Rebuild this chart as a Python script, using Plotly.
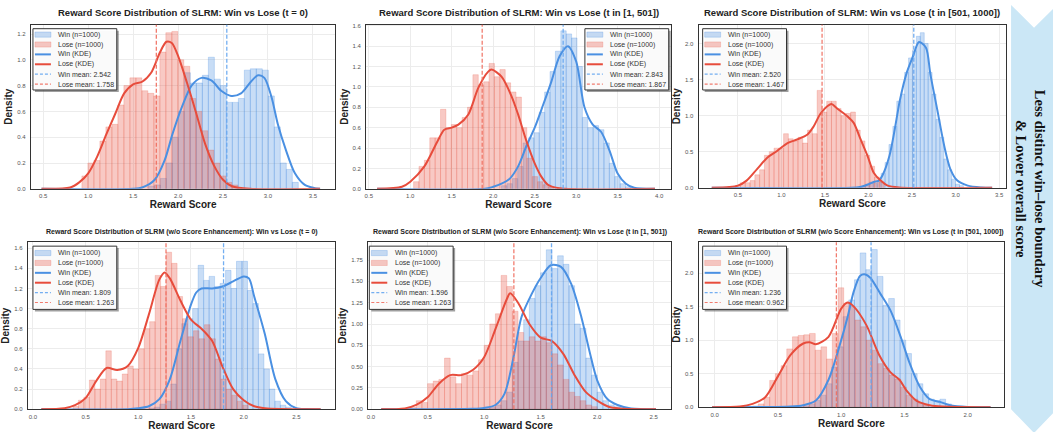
import numpy as np
import plotly.graph_objects as go

# ---------------- data ----------------
N_WIN = 1000
N_LOSE = 1000

titles = [
    "Reward Score Distribution of SLRM: Win vs Lose (t = 0)",
    "Reward Score Distribution of SLRM: Win vs Lose (t in [1, 501])",
    "Reward Score Distribution of SLRM: Win vs Lose (t in [501, 1000])",
    "Reward Score Distribution of SLRM (w/o Score Enhancement): Win vs Lose (t = 0)",
    "Reward Score Distribution of SLRM (w/o Score Enhancement): Win vs Lose (t in [1, 501])",
    "Reward Score Distribution of SLRM (w/o Score Enhancement): Win vs Lose (t in [501, 1000])",
]
win_means = [2.542, 2.843, 2.520, 1.809, 1.596, 1.236]
lose_means = [1.758, 1.867, 1.467, 1.263, 1.263, 0.962]

# histogram bins: first edge, bin width, densities
win_bin_start = [1.67, 2.10, 1.92, 1.10, 1.00, 0.70]
win_bin_width = [0.0667, 0.065, 0.045, 0.052, 0.05, 0.045]
lose_bin_start = [0.93, 1.04, 0.42, 0.38, 0.35, 0.30]
lose_bin_width = [0.0667, 0.065, 0.055, 0.052, 0.05, 0.045]

p1_win_hist = [0.02, 0.03, 0.08, 0.2, 0.4, 0.6, 0.9, 0.82, 0.82, 0.88, 1.02, 0.85, 0.8, 0.67,
               0.67, 0.7, 0.92, 0.93, 0.93, 0.92, 0.72, 0.48, 0.2, 0.15, 0.05]
p1_lose_hist = [0.1, 0.2, 0.22, 0.37, 0.48, 0.5, 0.65, 0.8, 0.86, 0.86, 0.76, 0.74, 0.72, 1.06,
                1.21, 1.22, 1.0, 0.95, 0.7, 0.6, 0.45, 0.3, 0.2, 0.1, 0.05, 0.03]
p2_win_hist = [0.03, 0.05, 0.1, 0.22, 0.45, 0.5, 0.55, 0.75, 0.95, 1.15, 1.35, 1.55, 1.52, 1.48,
               1.2, 0.7, 0.6, 0.62, 0.58, 0.45, 0.25, 0.12, 0.05, 0.02]
p2_lose_hist = [0.07, 0.22, 0.28, 0.5, 0.5, 0.78, 0.6, 0.63, 0.6, 0.7, 0.8, 1.12, 1.02, 1.05,
                1.23, 1.1, 1.17, 1.04, 0.95, 0.9, 0.6, 0.3, 0.12, 0.07, 0.04, 0.02]
p3_win_hist = [0.02, 0.05, 0.08, 0.06, 0.1, 0.2, 0.35, 0.6, 0.85, 1.2, 1.3, 1.6, 1.8, 1.9,
               2.1, 2.15, 2.0, 1.6, 1.3, 0.95, 0.7, 0.4, 0.25, 0.12, 0.05, 0.03]
p3_lose_hist = [0.02, 0.03, 0.07, 0.07, 0.1, 0.18, 0.25, 0.45, 0.5, 0.55, 0.55, 0.75, 0.68, 0.65,
                0.7, 0.62, 0.8, 0.75, 1.35, 1.05, 1.2, 1.2, 1.1, 1.0, 1.03, 1.05, 0.8, 0.65,
                0.45, 0.3, 0.15, 0.08]
p4_win_hist = [0.01, 0.02, 0.05, 0.08, 0.25, 0.6, 0.85, 0.9, 1.0, 1.43, 1.28, 1.32, 1.22, 1.25,
               1.38, 1.2, 1.47, 1.47, 1.18, 1.05, 0.55, 0.4, 0.2, 0.08, 0.04, 0.02]
p4_lose_hist = [0.03, 0.09, 0.12, 0.29, 0.2, 0.3, 0.58, 0.3, 0.28, 0.35, 0.43, 0.4, 0.6, 0.8,
                0.87, 1.33, 1.22, 1.56, 1.45, 1.12, 0.9, 0.72, 0.78, 0.7, 0.84, 0.7, 0.5, 0.3,
                0.2, 0.14, 0.08, 0.04]
p5_win_hist = [0.01, 0.02, 0.05, 0.1, 0.2, 0.55, 0.8, 1.05, 1.3, 1.45, 1.6, 1.87, 1.65, 1.8,
               1.7, 1.45, 1.0, 0.95, 0.6, 0.4, 0.2, 0.1, 0.05, 0.03, 0.02]
p5_lose_hist = [0.02, 0.1, 0.08, 0.3, 0.33, 0.35, 0.6, 0.38, 0.3, 0.42, 0.4, 0.45, 0.58, 0.75,
                1.0, 1.12, 1.57, 1.44, 1.15, 0.9, 0.8, 0.85, 0.8, 0.85, 0.78, 0.65, 0.52, 0.35,
                0.2, 0.15, 0.1, 0.05, 0.03]
p6_win_hist = [0.02, 0.05, 0.1, 0.18, 0.35, 0.6, 0.9, 1.35, 1.6, 1.9, 2.3, 2.05, 2.35, 1.95,
               1.52, 1.62, 1.3, 1.0, 0.8, 0.5, 0.35, 0.2, 0.12, 0.1, 0.12, 0.05, 0.02]
p6_lose_hist = [0.02, 0.05, 0.15, 0.4, 0.5, 0.62, 0.87, 1.05, 1.07, 1.08, 1.1, 0.85, 0.9, 0.72,
                1.1, 1.78, 1.55, 1.5, 1.3, 1.2, 1.0, 0.85, 0.65, 0.58, 0.48, 0.42, 0.3, 0.18,
                0.12, 0.06, 0.03]

# KDE curves
p1_win_kde_x = [0.48, 1.5, 1.6, 1.74, 1.85, 1.94, 2.04, 2.15, 2.26, 2.37, 2.48, 2.59, 2.7, 2.81,
                2.89, 2.96, 3.04, 3.11, 3.2, 3.3, 3.41, 3.52, 3.58]
p1_win_kde_y = [0, 0, 0.01, 0.07, 0.22, 0.43, 0.63, 0.8, 0.86, 0.84, 0.76, 0.72, 0.74, 0.83,
                0.88, 0.86, 0.71, 0.5, 0.3, 0.12, 0.03, 0.005, 0]
p1_lose_kde_x = [0.48, 0.8, 0.9, 1.0, 1.1, 1.2, 1.3, 1.4, 1.5, 1.6, 1.7, 1.8, 1.87, 1.93, 2.0,
                 2.1, 2.2, 2.3, 2.4, 2.5, 2.6, 2.8, 3.58]
p1_lose_kde_y = [0, 0.01, 0.05, 0.12, 0.25, 0.42, 0.58, 0.74, 0.81, 0.83, 0.9, 1.06, 1.14, 1.13,
                 1.03, 0.82, 0.59, 0.35, 0.18, 0.07, 0.02, 0.0, 0]
p2_win_kde_x = [0.6, 1.9, 2.0, 2.1, 2.2, 2.3, 2.4, 2.5, 2.6, 2.7, 2.8, 2.9, 3.0, 3.1, 3.2, 3.3,
                3.4, 3.5, 3.6, 3.7, 3.95]
p2_win_kde_y = [0, 0, 0.02, 0.05, 0.1, 0.22, 0.42, 0.6, 0.82, 1.05, 1.3, 1.4, 1.25, 0.8, 0.63,
                0.56, 0.38, 0.15, 0.05, 0.01, 0]
p2_lose_kde_x = [0.6, 0.9, 1.0, 1.17, 1.33, 1.41, 1.5, 1.58, 1.7, 1.82, 1.94, 1.98, 2.1, 2.22,
                 2.3, 2.4, 2.5, 2.58, 2.66, 2.8, 3.95]
p2_lose_kde_y = [0, 0.02, 0.07, 0.22, 0.47, 0.58, 0.6, 0.63, 0.73, 0.99, 1.15, 1.17, 1.1, 0.91,
                 0.73, 0.47, 0.25, 0.12, 0.04, 0.005, 0]
p3_win_kde_x = [0.2, 1.8, 1.9, 2.0, 2.06, 2.12, 2.16, 2.24, 2.3, 2.36, 2.44, 2.51, 2.58, 2.66,
                2.71, 2.79, 2.87, 2.94, 3.02, 3.14, 3.3, 3.42]
p3_win_kde_y = [0, 0, 0.01, 0.05, 0.08, 0.1, 0.17, 0.44, 0.8, 1.21, 1.6, 1.82, 2.02, 1.94, 1.58,
                1.08, 0.58, 0.26, 0.1, 0.03, 0.005, 0]
p3_lose_kde_x = [0.2, 0.4, 0.5, 0.6, 0.72, 0.84, 0.95, 1.07, 1.18, 1.3, 1.37, 1.45, 1.55, 1.58,
                 1.64, 1.76, 1.83, 1.91, 1.99, 2.06, 2.14, 2.22, 2.35, 3.42]
p3_lose_kde_y = [0, 0.01, 0.03, 0.1, 0.26, 0.42, 0.51, 0.62, 0.67, 0.74, 0.85, 1.03, 1.15, 1.16,
                 1.1, 0.99, 0.9, 0.67, 0.44, 0.21, 0.1, 0.03, 0.005, 0]
p4_win_kde_x = [0.08, 0.9, 1.0, 1.1, 1.2, 1.3, 1.4, 1.5, 1.55, 1.6, 1.7, 1.8, 1.9, 2.0, 2.05,
                2.1, 2.2, 2.3, 2.4, 2.5, 2.6, 2.73]
p4_win_kde_y = [0, 0, 0.01, 0.03, 0.1, 0.3, 0.68, 1.04, 1.16, 1.2, 1.2, 1.22, 1.27, 1.32, 1.3,
                1.12, 0.75, 0.3, 0.08, 0.01, 0.002, 0]
p4_lose_kde_x = [0.08, 0.3, 0.4, 0.5, 0.6, 0.7, 0.8, 0.9, 1.0, 1.1, 1.2, 1.25, 1.3, 1.4, 1.5,
                 1.6, 1.7, 1.8, 1.9, 2.0, 2.1, 2.2, 2.35, 2.73]
p4_lose_kde_y = [0, 0.01, 0.04, 0.11, 0.28, 0.41, 0.39, 0.43, 0.61, 0.94, 1.29, 1.36, 1.3, 1.08,
                 0.89, 0.8, 0.68, 0.42, 0.2, 0.09, 0.03, 0.01, 0.002, 0]
p5_win_kde_x = [0.09, 0.9, 1.0, 1.1, 1.18, 1.26, 1.33, 1.42, 1.5, 1.59, 1.68, 1.77, 1.86, 1.93,
                2.0, 2.09, 2.18, 2.3, 2.52]
p5_win_kde_y = [0, 0.005, 0.015, 0.05, 0.18, 0.61, 1.08, 1.35, 1.54, 1.69, 1.67, 1.47, 1.08,
                0.69, 0.34, 0.12, 0.05, 0.01, 0]
p5_lose_kde_x = [0.09, 0.3, 0.4, 0.5, 0.6, 0.7, 0.8, 0.9, 1.0, 1.1, 1.2, 1.23, 1.3, 1.4, 1.5,
                 1.6, 1.7, 1.8, 1.9, 2.0, 2.1, 2.2, 2.52]
p5_lose_kde_y = [0, 0.01, 0.05, 0.14, 0.3, 0.4, 0.4, 0.46, 0.61, 0.94, 1.29, 1.36, 1.25, 1.0,
                 0.84, 0.8, 0.65, 0.4, 0.2, 0.1, 0.03, 0.01, 0]
p6_win_kde_x = [-0.02, 0.6, 0.7, 0.8, 0.9, 1.0, 1.05, 1.1, 1.15, 1.19, 1.23, 1.31, 1.39, 1.47,
                1.54, 1.62, 1.7, 1.78, 1.86, 2.0, 2.18]
p6_win_kde_y = [0, 0.01, 0.03, 0.1, 0.41, 1.0, 1.34, 1.73, 1.96, 1.98, 1.93, 1.69, 1.44, 1.05,
                0.66, 0.31, 0.12, 0.08, 0.03, 0.005, 0]
p6_lose_kde_x = [-0.02, 0.2, 0.3, 0.4, 0.5, 0.6, 0.7, 0.75, 0.8, 0.9, 1.0, 1.05, 1.1, 1.2, 1.3,
                 1.39, 1.46, 1.52, 1.6, 1.7, 1.8, 2.18]
p6_lose_kde_y = [0, 0.01, 0.05, 0.15, 0.46, 0.78, 0.95, 0.97, 0.94, 1.05, 1.47, 1.56, 1.5, 1.22,
                 0.78, 0.52, 0.41, 0.24, 0.09, 0.03, 0.01, 0]

# axis ranges / ticks
x_ranges = [[0.363, 3.75], [0.47, 4.14], [0.05, 3.58], [-0.047, 2.87], [-0.024, 2.65], [-0.126, 2.287]]
y_ranges = [[0, 1.272], [0, 1.61], [0, 2.26], [0, 1.66], [0, 1.96], [0, 2.46]]
x_ticks = [[0.5, 1.0, 1.5, 2.0, 2.5, 3.0, 3.5],
           [0.5, 1.0, 1.5, 2.0, 2.5, 3.0, 3.5, 4.0],
           [0.5, 1.0, 1.5, 2.0, 2.5, 3.0, 3.5],
           [0.0, 0.5, 1.0, 1.5, 2.0, 2.5],
           [0.0, 0.5, 1.0, 1.5, 2.0, 2.5],
           [0.0, 0.5, 1.0, 1.5, 2.0]]
y_ticks = [[0, 0.2, 0.4, 0.6, 0.8, 1.0, 1.2],
           [0, 0.2, 0.4, 0.6, 0.8, 1.0, 1.2, 1.4, 1.6],
           [0, 0.5, 1.0, 1.5, 2.0],
           [0, 0.2, 0.4, 0.6, 0.8, 1.0, 1.2, 1.4, 1.6],
           [0, 0.25, 0.5, 0.75, 1.0, 1.25, 1.5, 1.75],
           [0, 0.5, 1.0, 1.5, 2.0]]
y_formats = [".1f", ".1f", ".1f", ".1f", ".2f", ".1f"]

win_hists = [p1_win_hist, p2_win_hist, p3_win_hist, p4_win_hist, p5_win_hist, p6_win_hist]
lose_hists = [p1_lose_hist, p2_lose_hist, p3_lose_hist, p4_lose_hist, p5_lose_hist, p6_lose_hist]
win_kdes = [(p1_win_kde_x, p1_win_kde_y), (p2_win_kde_x, p2_win_kde_y), (p3_win_kde_x, p3_win_kde_y),
            (p4_win_kde_x, p4_win_kde_y), (p5_win_kde_x, p5_win_kde_y), (p6_win_kde_x, p6_win_kde_y)]
lose_kdes = [(p1_lose_kde_x, p1_lose_kde_y), (p2_lose_kde_x, p2_lose_kde_y), (p3_lose_kde_x, p3_lose_kde_y),
             (p4_lose_kde_x, p4_lose_kde_y), (p5_lose_kde_x, p5_lose_kde_y), (p6_lose_kde_x, p6_lose_kde_y)]

side_text = "Less distinct win\u2013lose boundary<br>& Lower overall score"

# ---------------- layout / style ----------------
W, H = 1053, 432
BLUE = "#4A90E2"
RED = "#E74C3C"
BLUE_FILL = "rgba(74,144,226,0.30)"
RED_FILL = "rgba(231,76,60,0.30)"
BLUE_EDGE = "rgba(74,144,226,0.45)"
RED_EDGE = "rgba(231,76,60,0.35)"
BLUE_MEAN = "rgba(100,165,240,0.9)"
RED_MEAN = "rgba(240,110,95,0.9)"
FONT = "Liberation Sans, Arial, sans-serif"

# plot areas in pixels: left, top, right, bottom
areas = [(29, 23, 334, 189), (365, 23, 670, 189), (698, 23, 1006, 188),
         (26, 243, 334, 412), (367, 243, 670, 412), (698, 243, 1004, 410)]
legend_pos = [(31, 27), (584, 27), (702, 27), (31, 247), (368, 247), (702, 247)]
legend_h = [62, 62, 62, 64, 64, 64]
title_y = [11, 11, 11, 233, 233, 233]
title_size = [9.5, 9.5, 9.5, 7, 7, 7]


def px(x):
    return x / W


def py(y):
    return 1 - y / H


fig = go.Figure()
shapes = []
annotations = []
layout_axes = {}

for k in range(6):
    i = k + 1
    xa = "x" if i == 1 else f"x{i}"
    ya = "y" if i == 1 else f"y{i}"
    sfx = "" if i == 1 else str(i)

    wc = win_bin_start[k] + win_bin_width[k] * (np.arange(len(win_hists[k])) + 0.5)
    lc = lose_bin_start[k] + lose_bin_width[k] * (np.arange(len(lose_hists[k])) + 0.5)
    fig.add_trace(go.Bar(x=wc, y=win_hists[k], width=win_bin_width[k], name=f"Win (n={N_WIN})",
                         marker=dict(color=BLUE_FILL, line=dict(color=BLUE_EDGE, width=0.6)),
                         xaxis=xa, yaxis=ya, showlegend=False))
    fig.add_trace(go.Bar(x=lc, y=lose_hists[k], width=lose_bin_width[k], name=f"Lose (n={N_LOSE})",
                         marker=dict(color=RED_FILL, line=dict(color=RED_EDGE, width=0.6)),
                         xaxis=xa, yaxis=ya, showlegend=False))
    fig.add_trace(go.Scatter(x=win_kdes[k][0], y=win_kdes[k][1], mode="lines", name="Win (KDE)",
                             line=dict(color=BLUE, width=2, shape="spline", smoothing=0.8),
                             xaxis=xa, yaxis=ya, showlegend=False))
    fig.add_trace(go.Scatter(x=lose_kdes[k][0], y=lose_kdes[k][1], mode="lines", name="Lose (KDE)",
                             line=dict(color=RED, width=2, shape="spline", smoothing=0.8),
                             xaxis=xa, yaxis=ya, showlegend=False))

    # mean lines
    for m, col in ((win_means[k], BLUE_MEAN), (lose_means[k], RED_MEAN)):
        shapes.append(dict(type="line", xref=xa, yref=f"{ya} domain", x0=m, x1=m, y0=0, y1=1,
                           line=dict(color=col, width=1.3, dash="4px,2px"), layer="above"))

    l, t, r, b = areas[k]
    layout_axes[f"xaxis{sfx}"] = dict(
        domain=[px(l), px(r)], anchor=ya, range=x_ranges[k], tickvals=x_ticks[k], tickformat=".1f",
        showgrid=True, gridcolor="#ececec", gridwidth=0.6, zeroline=False,
        showline=True, mirror=True, linecolor="#333333", linewidth=1.3, ticks="",
        ticklabelstandoff=1, tickfont=dict(size=6, color="#555555", family=FONT),
        title=dict(text="Reward Score", standoff=1,
                   font=dict(size=10, color="#222222", family=FONT, weight="bold")),
    )
    layout_axes[f"yaxis{sfx}"] = dict(
        domain=[py(b), py(t)], anchor=xa, range=y_ranges[k], tickvals=y_ticks[k], tickformat=y_formats[k],
        showgrid=True, gridcolor="#ececec", gridwidth=0.6, zeroline=False,
        showline=True, mirror=True, linecolor="#333333", linewidth=1.3, ticks="",
        ticklabelstandoff=3, tickfont=dict(size=6, color="#555555", family=FONT),
        title=dict(text="Density", standoff=2,
                   font=dict(size=10, color="#222222", family=FONT, weight="bold")),
    )

    # subplot title
    annotations.append(dict(text=titles[k], xref="paper", yref="paper", x=px((l + r) / 2), y=py(title_y[k]),
                            xanchor="center", yanchor="middle", showarrow=False,
                            font=dict(size=title_size[k], color="#222222", family=FONT, weight="bold")))

    # legend box (drawn by hand to match the compact matplotlib legend)
    lx, ly = legend_pos[k]
    step = 10.0
    lw, lh = 84, legend_h[k]
    shapes.append(dict(type="rect", xref="paper", yref="paper", x0=px(lx + 2), x1=px(lx + lw + 2),
                       y0=py(ly + lh + 2), y1=py(ly + 2), fillcolor="rgba(80,80,80,0.55)",
                       line=dict(width=0), layer="above"))
    shapes.append(dict(type="rect", xref="paper", yref="paper", x0=px(lx), x1=px(lx + lw),
                       y0=py(ly + lh), y1=py(ly), fillcolor="rgba(255,255,255,0.95)",
                       line=dict(color="#333333", width=1), layer="above"))
    labels = [f"Win (n={N_WIN})", f"Lose (n={N_LOSE})", "Win (KDE)", "Lose (KDE)",
              f"Win mean: {win_means[k]:.3f}", f"Lose mean: {lose_means[k]:.3f}"]
    y0 = ly + (lh - 5 * step) / 2
    for j, lab in enumerate(labels):
        yy = y0 + j * step
        if j < 2:
            fc, ec = (BLUE_FILL, BLUE_EDGE) if j == 0 else (RED_FILL, RED_EDGE)
            shapes.append(dict(type="rect", xref="paper", yref="paper", x0=px(lx + 2), x1=px(lx + 18),
                               y0=py(yy + 2.6), y1=py(yy - 2.6), fillcolor=fc,
                               line=dict(color=ec, width=0.6), layer="above"))
        elif j < 4:
            col = BLUE if j == 2 else RED
            shapes.append(dict(type="line", xref="paper", yref="paper", x0=px(lx + 2), x1=px(lx + 18),
                               y0=py(yy), y1=py(yy), line=dict(color=col, width=2), layer="above"))
        else:
            col = BLUE_MEAN if j == 4 else RED_MEAN
            shapes.append(dict(type="line", xref="paper", yref="paper", x0=px(lx + 2), x1=px(lx + 18),
                               y0=py(yy), y1=py(yy), line=dict(color=col, width=1.2, dash="3px,2px"),
                               layer="above"))
        annotations.append(dict(text=lab, xref="paper", yref="paper", x=px(lx + 23.5), y=py(yy),
                                xanchor="left", yanchor="middle", showarrow=False,
                                font=dict(size=7, color="#333333", family=FONT)))

# side arrow banner
pts = [(1011, 3), (1034, 26), (1057, 3), (1057, 412), (1034, 436), (1011, 412)]
path = "M " + " L ".join(f"{px(x):.5f},{py(y):.5f}" for x, y in pts) + " Z"
shapes.append(dict(type="path", xref="paper", yref="paper", path=path, fillcolor="#cbe7f6",
                   line=dict(width=0), layer="below"))
annotations.append(dict(text=side_text, xref="paper", yref="paper", x=px(1030), y=py(189),
                        xanchor="center", yanchor="middle", showarrow=False, textangle=90,
                        font=dict(size=14.5, color="#111111", family="Liberation Serif, Times New Roman, serif",
                                  weight="bold")))

fig.update_layout(
    width=W, height=H, margin=dict(l=0, r=0, t=0, b=0),
    paper_bgcolor="white", plot_bgcolor="white",
    barmode="overlay", showlegend=False,
    shapes=shapes, annotations=annotations,
    **layout_axes,
)

fig.write_html("out.html", config={"displayModeBar": False},
               post_script="document.body.style.margin='0px';")
